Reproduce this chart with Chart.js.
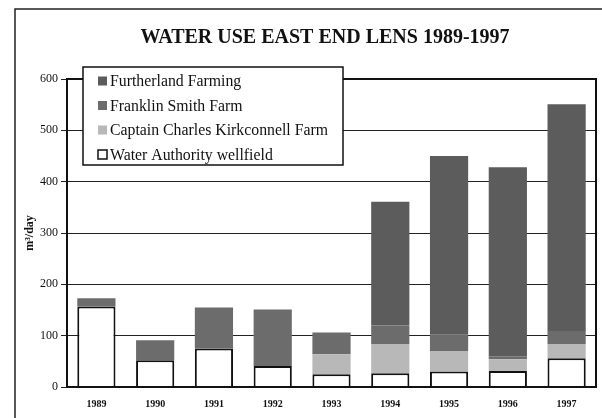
<!DOCTYPE html>
<html>
<head>
<meta charset="utf-8">
<script src="https://cdn.jsdelivr.net/npm/chart.js@4"></script>
<style>
  html, body { margin: 0; padding: 0; background: #fff; }
  #wrap { width: 602px; height: 418px; }
</style>
</head>
<body>
<div id="wrap"><canvas id="waterChart" width="602" height="418"></canvas></div>
<script>
// Water use, East End lens (m3/day)
var years = ['1989', '1990', '1991', '1992', '1993', '1994', '1995', '1996', '1997'];
var waterAuthority = [157, 52, 75, 41, 25, 27, 30, 31, 56];
var kirkconnell = [0, 0, 0, 0, 39, 57, 40, 23, 28];
var franklinSmith = [16, 39, 80, 110, 42, 36, 32, 6, 25];
var furtherland = [0, 0, 0, 0, 0, 241, 348, 368, 442];
var yTicks = [0, 100, 200, 300, 400, 500, 600];

var chartTitle = 'WATER USE EAST END LENS 1989-1997';
var serif = "'Liberation Serif', 'DejaVu Serif', serif";

// outer frame, title, box round the plot area and the legend
var framePlugin = {
    id: 'frame',
    beforeDraw: function(chart) {
        var ctx = chart.ctx;
        ctx.save();
        ctx.strokeStyle = '#222';
        ctx.lineWidth = 1.5;
        ctx.beginPath();
        ctx.moveTo(15, 418);
        ctx.lineTo(15, 9);
        ctx.lineTo(602, 9);
        ctx.stroke();

        ctx.fillStyle = '#111';
        ctx.font = 'bold 20px ' + serif;
        ctx.textAlign = 'center';
        ctx.textBaseline = 'middle';
        ctx.fillText(chartTitle, 325, 38);
        ctx.restore();
    },
    afterDraw: function(chart) {
        var ctx = chart.ctx;
        var a = chart.chartArea;
        ctx.save();
        ctx.strokeStyle = '#111';
        ctx.lineWidth = 2;
        ctx.strokeRect(a.left, a.top, a.right - a.left, a.bottom - a.top);

        // legend, top entry = top of stack
        var bx = 83, by = 67, bw = 260, bh = 98;
        ctx.fillStyle = '#fff';
        ctx.fillRect(bx, by, bw, bh);
        ctx.lineWidth = 1.5;
        ctx.strokeRect(bx, by, bw, bh);
        var ds = chart.data.datasets.slice().reverse();
        ctx.font = '15.8px ' + serif;
        ctx.textBaseline = 'middle';
        ds.forEach(function(d, i) {
            var cy = by + 14 + i * 24.5;
            ctx.fillStyle = d.backgroundColor;
            ctx.fillRect(98, cy - 4.5, 9, 9);
            if (d.borderWidth) {
                ctx.lineWidth = 1.5;
                ctx.strokeStyle = '#111';
                ctx.strokeRect(98, cy - 4.5, 9, 9);
            }
            ctx.fillStyle = '#111';
            ctx.fillText(d.label, 110, cy + 1);
        });
        ctx.restore();
    }
};

new Chart(document.getElementById('waterChart').getContext('2d'), {
    type: 'bar',
    data: {
        labels: years,
        datasets: [{
            label: 'Water Authority wellfield',
            data: waterAuthority,
            backgroundColor: '#ffffff',
            borderColor: '#111',
            borderWidth: 2
        }, {
            label: 'Captain Charles Kirkconnell Farm',
            data: kirkconnell,
            backgroundColor: '#b8b8b8',
            borderWidth: 0
        }, {
            label: 'Franklin Smith Farm',
            data: franklinSmith,
            backgroundColor: '#6c6c6c',
            borderWidth: 0
        }, {
            label: 'Furtherland Farming',
            data: furtherland,
            backgroundColor: '#5c5c5c',
            borderWidth: 0
        }]
    },
    options: {
        responsive: false,
        animation: false,
        categoryPercentage: 1,
        barPercentage: 0.65,
        layout: { padding: { left: 15, right: 6, top: 79, bottom: 0 } },
        scales: {
            x: {
                stacked: true,
                grid: { display: false },
                border: { color: '#111', width: 2 },
                ticks: {
                    color: '#111',
                    font: { family: serif, size: 10, weight: 'bold' },
                    padding: 3
                },
                afterFit: function(s) { s.height = 31; }
            },
            y: {
                stacked: true,
                min: 0,
                max: 600,
                afterBuildTicks: function(s) {
                    s.ticks = yTicks.map(function(v) { return { value: v }; });
                },
                grid: { color: '#222', lineWidth: 1, tickLength: 6 },
                border: { color: '#111', width: 2 },
                ticks: {
                    color: '#111',
                    font: { family: serif, size: 12 },
                    padding: 3
                },
                title: {
                    display: true,
                    text: 'm³/day',
                    color: '#111',
                    font: { family: serif, size: 12, weight: 'bold' },
                    padding: { top: 8, bottom: 0 }
                },
                afterFit: function(s) { s.width = 52; }
            }
        },
        plugins: {
            legend: { display: false },
            tooltip: { enabled: false },
            title: { display: false }
        }
    },
    plugins: [framePlugin]
});
</script>
</body>
</html>
